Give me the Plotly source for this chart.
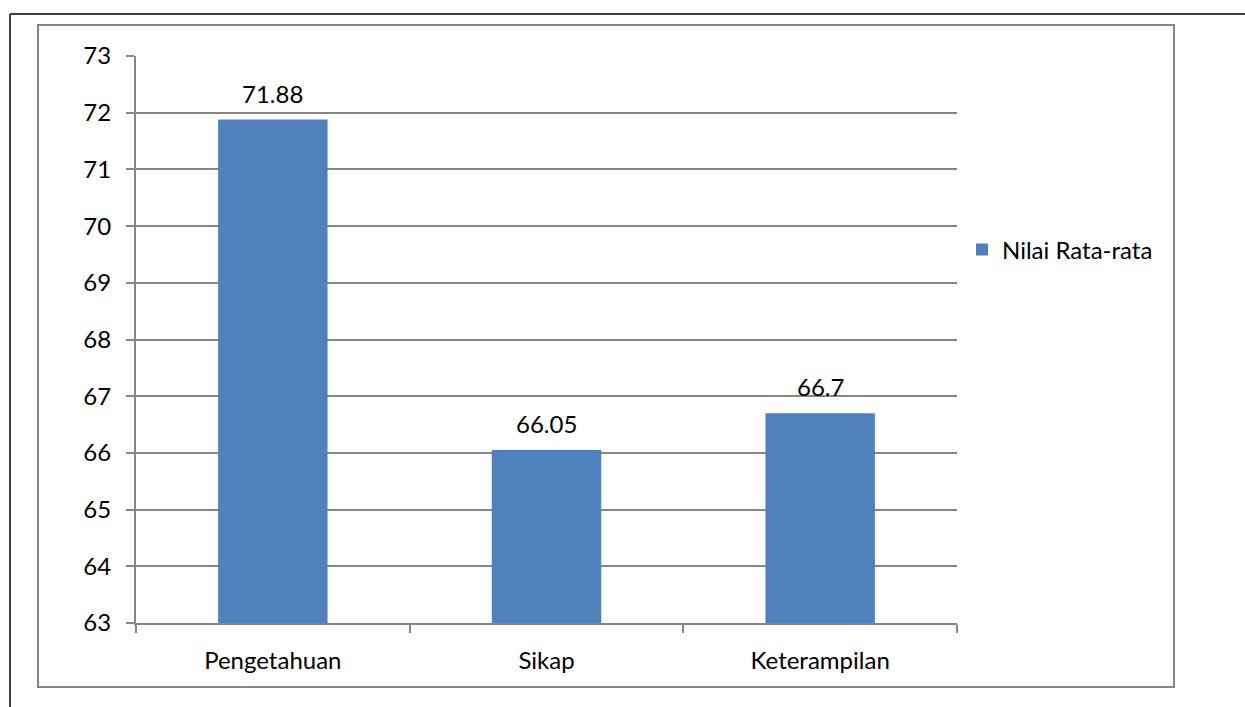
import plotly.graph_objects as go

categories = ["Pengetahuan", "Sikap", "Keterampilan"]
values = [71.88, 66.05, 66.7]
value_labels = ["71.88", "66.05", "66.7"]
series_name = "Nilai Rata-rata"
y_ticks = list(range(63, 74))

W, H = 1245, 707
L, R, T, B = 136, 957, 56, 623
FONT = "Lato"
FS = 24
BAR = "#4F81BD"
GRID = "#868686"

fig = go.Figure()
fig.add_trace(go.Bar(
    x=categories, y=values, name=series_name,
    marker=dict(color=BAR, line=dict(width=0)),
    width=0.4, showlegend=True, hoverinfo="skip",
))

for c, v, t in zip(categories, values, value_labels):
    fig.add_annotation(x=c, y=v, text=t, showarrow=False, yanchor="bottom",
                       yshift=10, font=dict(family=FONT, size=FS, color="#000000"))

def px(x):
    return (x - L) / (R - L)

def py(y):
    return (B - y) / (B - T)

# outer black border (top & left)
fig.add_shape(type="line", xref="paper", yref="paper", x0=px(10), y0=py(14), x1=px(1250), y1=py(14),
              line=dict(color="#404040", width=2))
fig.add_shape(type="line", xref="paper", yref="paper", x0=px(10), y0=py(14), x1=px(10), y1=py(720),
              line=dict(color="#404040", width=2))
# inner chart border
fig.add_shape(type="rect", xref="paper", yref="paper", x0=px(38), y0=py(25), x1=px(1174), y1=py(687),
              line=dict(color="#868686", width=2), fillcolor="rgba(0,0,0,0)", layer="below")

fig.update_layout(
    width=W, height=H,
    margin=dict(l=L, r=W - R, t=T, b=H - B, pad=0),
    paper_bgcolor="white", plot_bgcolor="white",
    font=dict(family=FONT, size=FS, color="#000000"),
    bargap=0.6,
    legend=dict(x=px(962), y=py(250), xanchor="left", yanchor="middle",
                font=dict(family=FONT, size=FS), itemwidth=30, bgcolor="rgba(0,0,0,0)"),
    xaxis=dict(showline=True, linecolor=GRID, linewidth=2, ticks="outside", tickson="boundaries",
               ticklen=8, tickcolor=GRID, tickwidth=2, showgrid=False,
               tickfont=dict(family=FONT, size=FS), ticklabelstandoff=15),
    yaxis=dict(range=[63, 73], tickvals=y_ticks, showline=True, linecolor=GRID, linewidth=2,
               ticks="outside", ticklen=8, tickcolor=GRID, tickwidth=2,
               showgrid=True, gridcolor=GRID, gridwidth=1.5, zeroline=False,
               tickfont=dict(family=FONT, size=FS), ticklabelstandoff=10),
)

fig.write_html("out.html", config={"displayModeBar": False},
               post_script="document.body.style.margin='0';")
